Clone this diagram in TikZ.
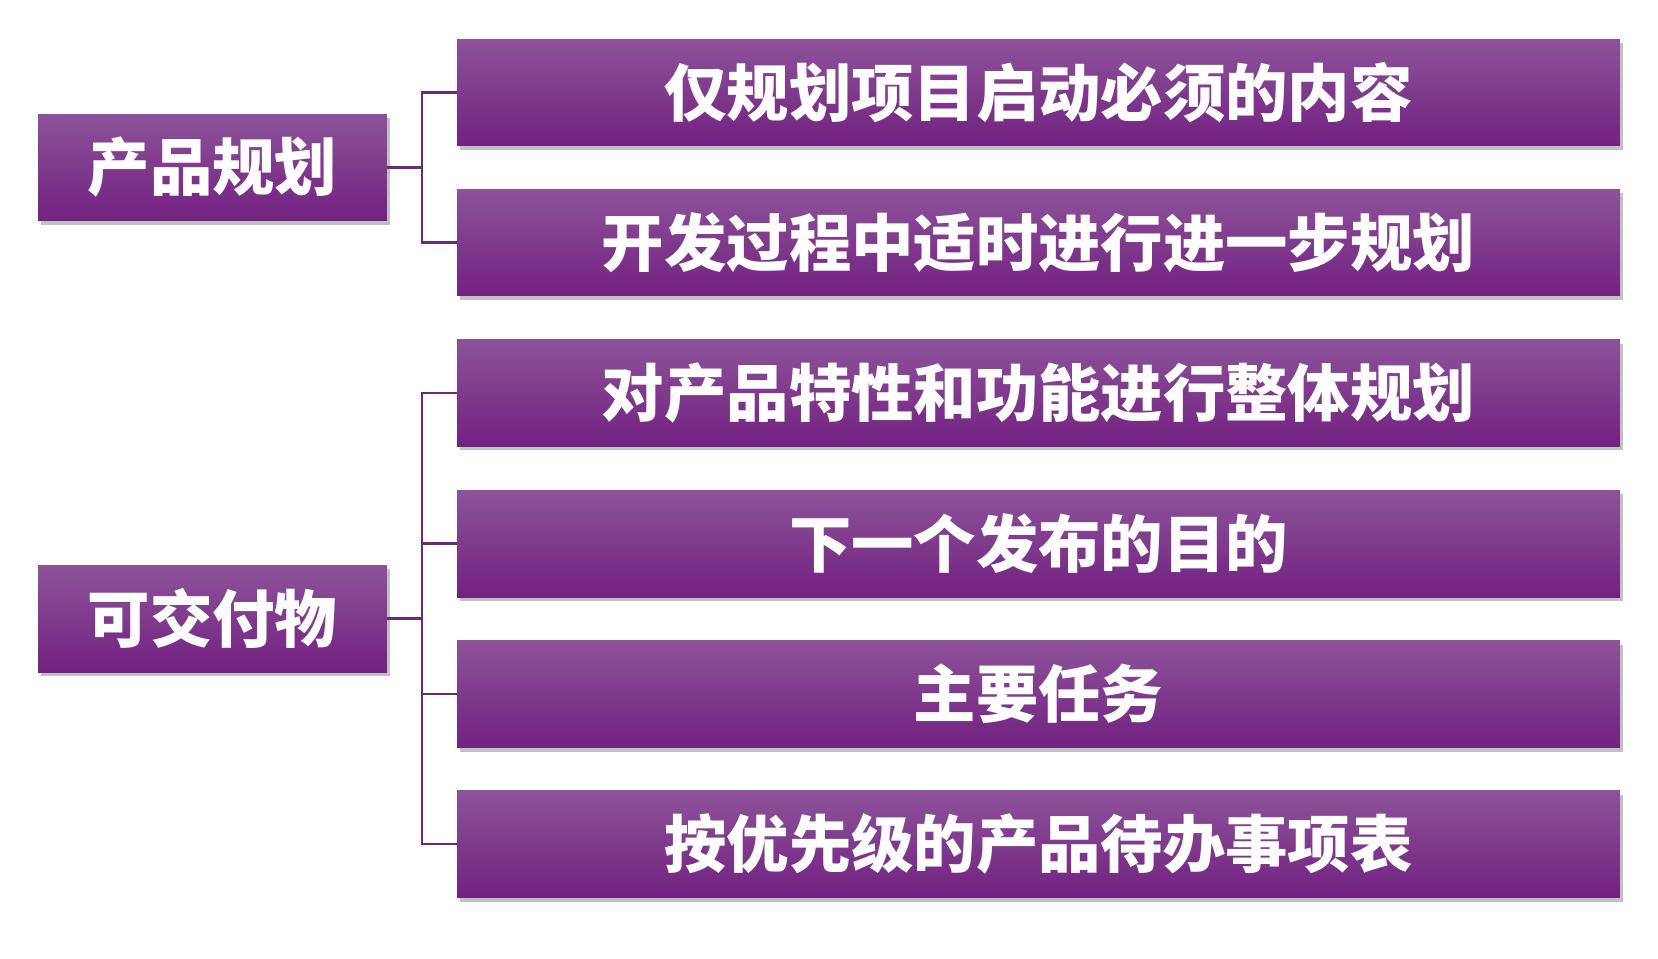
\documentclass[tikz,border=0pt]{standalone}
\usepackage{fontspec}
\usepackage{xcolor}
\usepackage{tikz}
\usetikzlibrary{shadows}
\newfontfamily\cjk{Noto Sans CJK SC}
\definecolor{ptop}{HTML}{8C5399}
\definecolor{pmid}{HTML}{7E2B8E}
\definecolor{pbot}{HTML}{722180}
\definecolor{pline}{HTML}{6A2A7C}
\tikzset{
  pbox/.style={rectangle,inner sep=0pt,text=white,top color=ptop,middle color=pmid,bottom color=pbot,
    font=\cjk\bfseries\fontsize{35.5}{40}\selectfont,
    drop shadow={shadow xshift=0.06cm,shadow yshift=-0.08cm,opacity=0.35,fill=black!70}},
  lbox/.style={pbox,minimum width=6.98cm,minimum height=2.14cm},
  rbox/.style={pbox,minimum width=23.26cm,minimum height=2.14cm},
  lnk/.style={draw=pline,line width=1.5pt}}

\begin{document}
\begin{tikzpicture}[x=0.02cm,y=-0.02cm]
\useasboundingbox (0,0) rectangle (1658,958);

% ================= left: the two topics =================
\node[lbox] (plan) at (212.5,167.5) {产品规划};
\node[lbox] (deliv) at (212.5,618.5) {可交付物};

% ================= right: details =================
\node[rbox] (scope) at (1038.5,92.5) {仅规划项目启动必须的内容};
\node[rbox] (later) at (1038.5,242.5) {开发过程中适时进行进一步规划};
\node[rbox] (feat) at (1038.5,393) {对产品特性和功能进行整体规划};
\node[rbox] (goal) at (1038.5,543.5) {下一个发布的目的};
\node[rbox] (tasks) at (1038.5,694) {主要任务};
\node[rbox] (backlog) at (1038.5,844) {按优先级的产品待办事项表};

% ================= brackets =================
\coordinate (pj) at (422,167.5);
\coordinate (dj) at (422,618.5);
\draw[lnk] (plan.east) -- (pj) |- (scope.west);
\draw[lnk] (pj) |- (later.west);
\draw[lnk] (deliv.east) -- (dj) |- (feat.west);
\draw[lnk] (dj) |- (goal.west);
\draw[lnk] (dj) |- (tasks.west);
\draw[lnk] (dj) |- (backlog.west);

\end{tikzpicture}
\end{document}
